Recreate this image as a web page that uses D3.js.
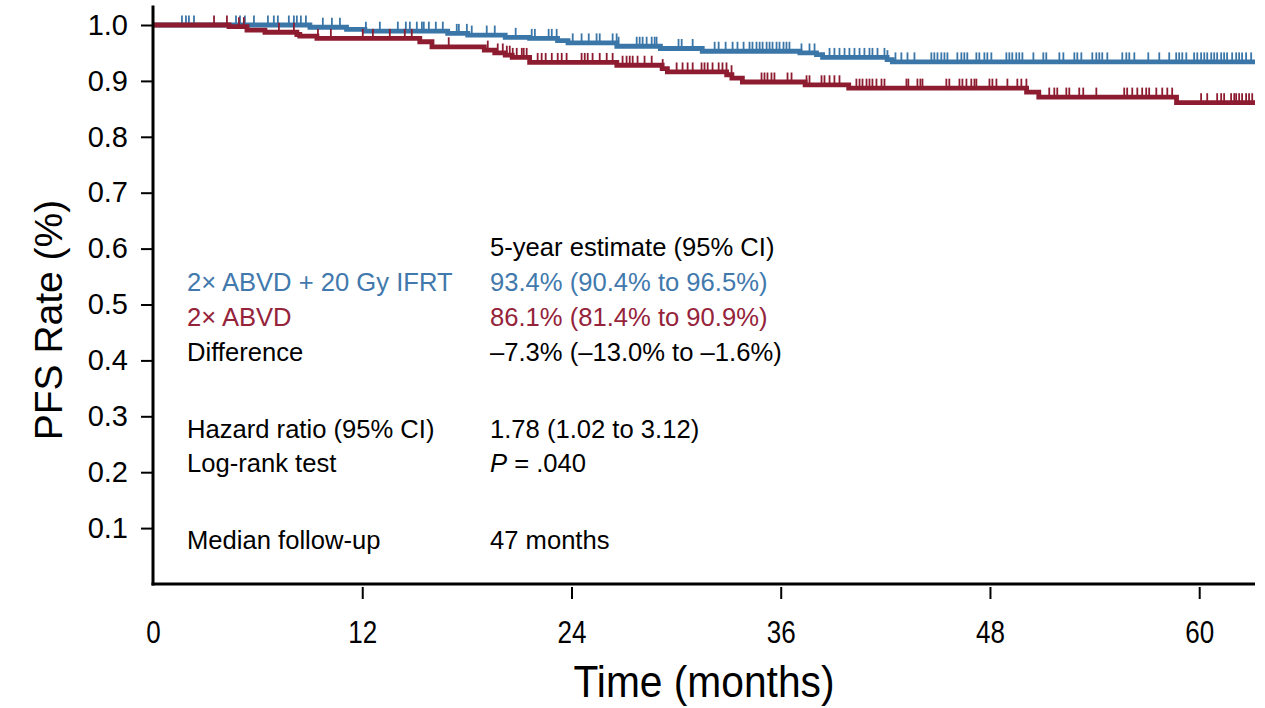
<!DOCTYPE html>
<html><head><meta charset="utf-8">
<script src="https://cdn.jsdelivr.net/npm/d3@7"></script>
<style>
html,body{margin:0;padding:0;background:#fff;}
svg{display:block;}
</style></head>
<body><svg id="c" width="1265" height="708"></svg>
<script>
// ---- data ----
const xTicks = [0, 12, 24, 36, 48, 60];
const yTicks = [0.1, 0.2, 0.3, 0.4, 0.5, 0.6, 0.7, 0.8, 0.9, 1.0];
const followUpEnd = 63.2;

// 2x ABVD + 20 Gy IFRT (blue): event times (months) and survival after each event
const blueEventTimes = [9.0, 11.1, 12.15, 16.9, 18.05, 20.2, 21.6, 23.2, 23.8, 26.6, 29.1, 31.5, 37.1, 38.05, 38.4, 42.1, 42.4];
const blueSurv       = [0.996, 0.992, 0.989, 0.985, 0.982, 0.978, 0.976, 0.972, 0.968, 0.962, 0.958, 0.953, 0.950, 0.947, 0.942, 0.938, 0.934];
const blueCensor = [1.66,1.89,2.06,2.35,4.76,4.99,5.27,5.79,6.59,6.93,7.16,7.79,8.08,8.25,8.48,8.77,9.74,10.26,10.72,12.21,13.01,14.04,14.5,14.73,15.13,15.42,15.53,15.82,16.22,16.62,17.42,17.54,18.0,18.28,19.14,19.6,20.8,21.72,21.9,22.69,22.87,23.15,24.07,24.58,24.99,25.44,25.62,26.36,26.59,26.7,27.74,27.91,28.08,28.31,28.6,28.77,28.88,30.14,30.32,30.95,32.21,32.44,32.84,33.24,33.52,33.87,34.21,34.38,34.61,34.79,34.96,35.19,35.36,35.53,35.76,35.93,36.16,36.33,36.5,37.19,37.65,37.94,38.8,39.08,39.37,39.66,39.94,40.23,40.52,40.8,41.09,41.26,41.55,41.95,42.12,42.58,42.92,43.27,43.67,44.64,44.81,44.99,45.21,45.39,45.56,46.13,46.36,46.53,46.7,47.22,47.39,47.68,47.85,48.08,48.94,49.11,49.28,49.51,49.68,49.86,50.49,51.06,51.23,51.98,52.21,52.84,53.01,53.24,53.87,54.1,54.27,54.44,54.73,55.59,55.82,55.99,56.28,57.08,57.71,58.28,58.68,58.85,59.03,59.26,59.71,59.89,60.11,60.29,60.46,60.69,60.86,61.03,61.26,61.43,61.6,61.89,62.12,62.29,62.46,62.69,62.98];

// 2x ABVD (red)
const redEventTimes = [4.36, 5.39, 6.42, 8.25, 8.42, 9.4, 15.3, 16.0, 19.0, 19.6, 20.2, 20.6, 21.6, 26.6, 29.2, 29.5, 32.9, 33.2, 33.8, 37.4, 39.9, 50.1, 50.8, 58.7];
const redSurv       = [0.997, 0.991, 0.987, 0.983, 0.980, 0.976, 0.970, 0.961, 0.955, 0.950, 0.946, 0.942, 0.933, 0.928, 0.922, 0.916, 0.911, 0.905, 0.898, 0.893, 0.887, 0.880, 0.871, 0.861];
const redCensor = [3.5,4.24,4.93,5.21,7.22,8.08,9.46,10.2,12.03,12.61,13.58,14.44,14.84,16.96,19.2,19.77,20.06,20.29,20.46,20.63,20.86,21.15,21.26,21.43,22.06,22.29,22.52,22.87,23.21,23.44,23.72,24.58,24.76,24.93,25.21,25.62,26.02,26.36,26.93,27.16,27.34,27.51,27.79,28.19,28.6,29.23,30.03,30.37,30.66,30.95,31.46,31.63,31.81,32.09,32.44,32.66,32.89,33.18,34.9,35.07,35.24,35.47,35.64,36.39,36.62,37.48,37.65,38.34,38.51,38.8,39.08,39.37,40.34,40.52,40.69,40.92,41.09,41.26,41.49,41.78,41.95,43.21,43.32,43.84,44.01,44.13,45.5,45.67,46.25,46.42,46.65,46.93,47.11,47.22,47.97,48.14,48.37,49.0,49.57,49.8,50.09,51.4,51.69,51.86,52.38,52.55,53.12,53.35,54.1,55.7,55.87,56.16,56.45,56.73,56.96,57.13,57.54,57.88,58.17,58.45,60.11,60.46,61.03,61.26,61.43,61.83,62.01,62.12,62.29,62.46,62.69,62.86,63.04];

const annotLeft  = ["2\u00d7 ABVD + 20 Gy IFRT", "2\u00d7 ABVD", "Difference", "Hazard ratio (95% CI)", "Log-rank test", "Median follow-up"];
const annotRight = ["93.4% (90.4% to 96.5%)", "86.1% (81.4% to 90.9%)", "\u20137.3% (\u201313.0% to \u20131.6%)", "1.78 (1.02 to 3.12)", "P = .040", "47 months"];
const annotHeader = "5-year estimate (95% CI)";

// ---- drawing ----
const BLUE = "#3b76a8", RED = "#8e1c30";
const BLUE_T = "#4279ad", RED_T = "#95233a";
const svg = d3.select("#c");
const x = d3.scaleLinear().domain([0, followUpEnd]).range([153, 1255]);
const y = d3.scaleLinear().domain([0, 1]).range([584, 25]);

function stepPoints(times, surv){
  const pts = [[0, 1]];
  times.forEach((t, i) => pts.push([t, surv[i]]));
  pts.push([followUpEnd, surv[surv.length - 1]]);
  return pts;
}
function survAt(times, surv, t){
  let v = 1;
  for (let i = 0; i < times.length; i++) if (times[i] <= t) v = surv[i];
  return v;
}
const line = d3.line().x(d => x(d[0])).y(d => y(d[1])).curve(d3.curveStepAfter);

function drawCurve(times, surv, censor, color){
  const g = svg.append("g");
  g.append("path").attr("d", line(stepPoints(times, surv)))
    .attr("fill", "none").attr("stroke", color).attr("stroke-width", 4.8);
  g.selectAll("line.c").data(censor).join("line")
    .attr("x1", d => x(d)).attr("x2", d => x(d))
    .attr("y1", d => y(survAt(times, surv, d)))
    .attr("y2", d => y(survAt(times, surv, d)) - 9.5)
    .attr("stroke", color).attr("stroke-width", 1.8);
}
drawCurve(blueEventTimes, blueSurv, blueCensor, BLUE);
drawCurve(redEventTimes, redSurv, redCensor, RED);

// axes
const yAxis = d3.axisLeft(y).tickValues(yTicks).tickSize(12).tickPadding(13).tickFormat(d3.format(".1f"));
const gy = svg.append("g").attr("transform", "translate(153,0)").call(yAxis);
gy.select(".domain").remove();
gy.selectAll(".tick line").attr("stroke", "#000").attr("stroke-width", 2);
gy.selectAll(".tick text").attr("font-family", "Liberation Sans, Arial, sans-serif").attr("font-size", 29).attr("fill", "#000");

const xAxis = d3.axisBottom(x).tickValues(xTicks).tickSize(12).tickPadding(22).tickFormat(d3.format("d"));
const gx = svg.append("g").attr("transform", "translate(0,587)").call(xAxis);
gx.select(".domain").remove();
gx.selectAll(".tick line").attr("stroke", "#000").attr("stroke-width", 2)
  .attr("opacity", d => d === 0 ? 0 : 1);
gx.selectAll(".tick text").attr("font-family", "Liberation Sans, Arial, sans-serif").attr("font-size", 31).attr("fill", "#000")
  .attr("transform", "scale(0.84,1)");

// axis lines
svg.append("line").attr("x1", x(0)).attr("x2", x(0)).attr("y1", y(1.035)).attr("y2", y(0) + 1.5)
  .attr("stroke", "#000").attr("stroke-width", 3);
svg.append("line").attr("x1", x(0) - 1.5).attr("x2", x(followUpEnd)).attr("y1", y(0)).attr("y2", y(0))
  .attr("stroke", "#000").attr("stroke-width", 3);

// titles
svg.append("text").attr("x", 704).attr("y", 697)
  .attr("text-anchor", "middle").attr("font-family", "Liberation Sans, Arial, sans-serif")
  .attr("font-size", 45).attr("textLength", 261).attr("lengthAdjust", "spacingAndGlyphs").text("Time (months)");
svg.append("text").attr("transform", "translate(62,320) rotate(-90)")
  .attr("text-anchor", "middle").attr("font-family", "Liberation Sans, Arial, sans-serif")
  .attr("font-size", 39).text("PFS Rate (%)");

// annotation block
const AF = "Liberation Sans, Arial, sans-serif", AS = 25.6;
svg.append("text").attr("x", 490).attr("y", 256).attr("font-family", AF).attr("font-size", AS).text(annotHeader);
const rowsY = [291, 326, 361, 438, 472, 549];
const rowCol = [BLUE_T, RED_T, "#000", "#000", "#000", "#000"];
annotLeft.forEach((t, i) => {
  svg.append("text").attr("x", 187).attr("y", rowsY[i]).attr("font-family", AF).attr("font-size", AS)
    .attr("fill", rowCol[i]).text(t);
});
annotRight.forEach((t, i) => {
  const tx = svg.append("text").attr("x", 490).attr("y", rowsY[i]).attr("font-family", AF).attr("font-size", AS)
    .attr("fill", rowCol[i]);
  if (t.startsWith("P ")) {
    tx.append("tspan").attr("font-style", "italic").text("P");
    tx.append("tspan").text(t.slice(1));
  } else tx.text(t);
});
</script>
</body></html>
